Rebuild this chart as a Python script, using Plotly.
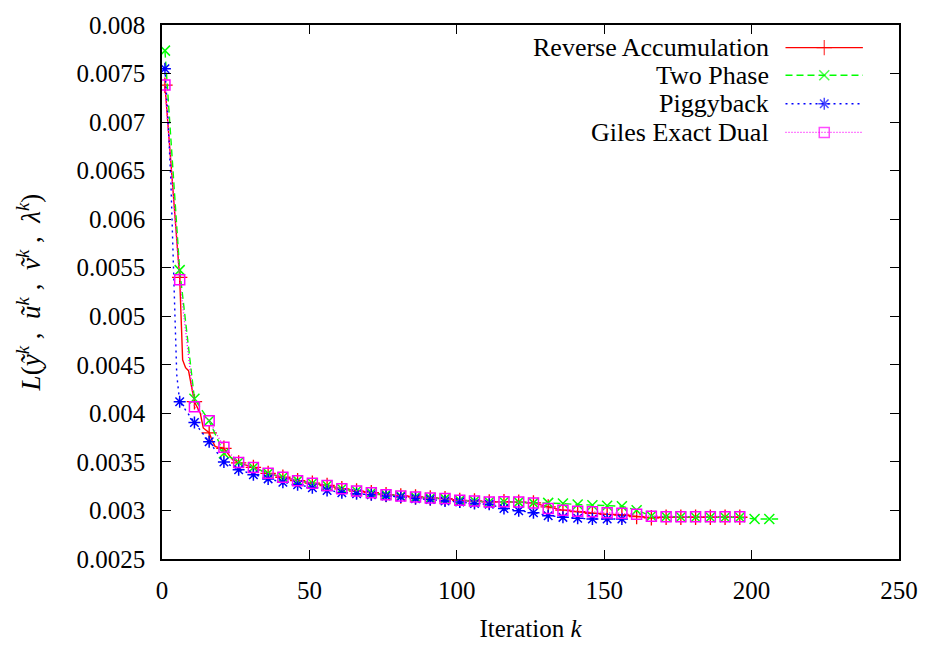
import plotly.graph_objects as go

# ---------------- data ----------------
ra_iter = [1, 2, 3, 4, 5, 6, 7, 8, 9, 10, 11, 12, 13, 14, 15, 16, 17, 18, 19, 20, 21, 22, 23, 24, 25, 26,
           31, 36, 41, 46, 51, 56, 61, 66, 71, 76, 81, 86, 91, 96, 101, 106, 111, 116, 121, 126,
           131, 136, 141, 146, 151, 156, 161, 166, 171, 176, 181, 186, 191, 196]
ra_val = [0.00738, 0.00700, 0.00660, 0.00620, 0.00580, 0.00540, 0.00455, 0.00447, 0.00444, 0.00429,
          0.00412, 0.00406, 0.00400, 0.00385, 0.00382, 0.00380, 0.00372, 0.00366, 0.00365, 0.00365,
          0.00364, 0.00360, 0.00355, 0.00352, 0.00351, 0.00349,
          0.003443, 0.003382, 0.003342, 0.003307, 0.003281, 0.003257, 0.003223, 0.003200, 0.003183,
          0.003163, 0.003149, 0.003139, 0.003129, 0.003122, 0.003104, 0.003098, 0.003088, 0.003090,
          0.003086, 0.003078,
          0.003037, 0.003003, 0.002987, 0.002970, 0.002960, 0.002953, 0.002936, 0.002925, 0.002930,
          0.002930, 0.002930, 0.002930, 0.002930, 0.002930]

tp_iter = [1, 6, 11, 16, 21, 26, 31, 36, 41, 46, 51, 56, 61, 66, 71, 76, 81, 86, 91, 96, 101, 106,
           111, 116, 121, 126, 131, 136, 141, 146, 151, 156, 161, 166, 171, 176, 181, 186, 191, 196,
           201, 206, 209]
tp_val = [0.007736, 0.005475, 0.004150, 0.003923, 0.003590, 0.003497, 0.003443, 0.003382, 0.003342,
          0.003307, 0.003281, 0.003257, 0.003223, 0.003200, 0.003183, 0.003163, 0.003149, 0.003139,
          0.003129, 0.003122, 0.003104, 0.003098, 0.003088, 0.003090, 0.003086, 0.003078, 0.003078,
          0.003071, 0.003061, 0.003054, 0.003048, 0.003044, 0.003003, 0.002942, 0.002936, 0.002932,
          0.002930, 0.002930, 0.002930, 0.002930, 0.002912, 0.002912, 0.002912]

pb_iter = [1, 2, 3, 4, 5, 6, 11, 16, 21, 26, 31, 36, 41, 46, 51, 56, 61, 66, 71, 76, 81, 86, 91, 96,
           101, 106, 111, 116, 121, 126, 131, 136, 141, 146, 151, 156]
pb_val = [0.00755, 0.00705, 0.00640, 0.00540, 0.00440, 0.004119, 0.003906, 0.003707, 0.003500,
          0.003419, 0.003368, 0.003325, 0.003291, 0.003264, 0.003233, 0.003206, 0.003183, 0.003172,
          0.003162, 0.003149, 0.003139, 0.003122, 0.003112, 0.003098, 0.003088, 0.003071, 0.003064,
          0.003020, 0.002997, 0.002977, 0.002946, 0.002929, 0.002919, 0.002912, 0.002912, 0.002912]

ge_iter = [1, 6, 11, 16, 21, 26, 31, 36, 41, 46, 51, 56, 61, 66, 71, 76, 81, 86, 91, 96, 101, 106,
           111, 116, 121, 126, 131, 136, 141, 146, 151, 156, 161, 166, 171, 176, 181, 186, 191, 196]
ge_val = [0.007381, 0.005376, 0.004068, 0.003923, 0.003652, 0.003494, 0.003443, 0.003382, 0.003342,
          0.003307, 0.003281, 0.003257, 0.003223, 0.003200, 0.003183, 0.003163, 0.003149, 0.003139,
          0.003129, 0.003122, 0.003104, 0.003098, 0.003088, 0.003090, 0.003086, 0.003078, 0.003020,
          0.003003, 0.002993, 0.002987, 0.002977, 0.002970, 0.002960, 0.002940, 0.002936, 0.002936,
          0.002936, 0.002936, 0.002936, 0.002936]

series_names = ["Reverse Accumulation", "Two Phase", "Piggyback", "Giles Exact Dual"]

x_ticks = [0, 50, 100, 150, 200, 250]
y_ticks = [0.0025, 0.003, 0.0035, 0.004, 0.0045, 0.005, 0.0055, 0.006, 0.0065, 0.007, 0.0075, 0.008]
y_tick_labels = ["0.0025", "0.003", "0.0035", "0.004", "0.0045", "0.005", "0.0055", "0.006",
                 "0.0065", "0.007", "0.0075", "0.008"]

# ---------------- styles ----------------
styles = [
    dict(color="#ff0000", dash="solid", symbol="cross-thin", msize=11, mlw=1.3),
    dict(color="#00ff00", dash="7px,4px", symbol="x-thin", msize=10, mlw=1.5),
    dict(color="#0000ff", dash="2px,4px", symbol="asterisk", msize=10, mlw=1.5),
    dict(color="#ff00ff", dash="1px,2px", symbol="square-open", msize=10, mlw=1.5),
]
data = [(ra_iter, ra_val), (tp_iter, tp_val), (pb_iter, pb_val), (ge_iter, ge_val)]

fig = go.Figure()
FONT = "Liberation Serif, Times New Roman, serif"
FS = 25

for (xs, ys), st, name in zip(data, styles, series_names):
    fig.add_trace(go.Scatter(x=xs, y=ys, mode="lines", name=name, showlegend=False,
                             line=dict(color=st["color"], width=1.4, dash=st["dash"])))
    mx = [x for x in xs if (x - 1) % 5 == 0]
    my = [y for x, y in zip(xs, ys) if (x - 1) % 5 == 0]
    fig.add_trace(go.Scatter(x=mx, y=my, mode="markers", name=name, showlegend=False,
                             marker=dict(symbol=st["symbol"], size=st["msize"], color=st["color"],
                                         line=dict(color=st["color"], width=st["mlw"]))))

# custom gnuplot-style key (text right, sample on right)
key_rows = [0.9576, 0.9059, 0.8524, 0.7989]
for row, st, name in zip(key_rows, styles, series_names):
    fig.add_trace(go.Scatter(x=[0.846, 0.8986, 0.951], y=[row] * 3, xaxis="x2", yaxis="y2",
                             mode="lines+markers", showlegend=False, hoverinfo="skip",
                             line=dict(color=st["color"], width=1.4, dash=st["dash"]),
                             marker=dict(symbol=st["symbol"], size=[0, st["msize"], 0],
                                         color=st["color"],
                                         line=dict(color=st["color"], width=st["mlw"]))))
    fig.add_annotation(x=0.826, y=row, xref="paper", yref="paper", text=name, showarrow=False,
                       xanchor="right", yanchor="middle", font=dict(family=FONT, size=FS + 1, color="black"))

axis_common = dict(showgrid=False, zeroline=False, showline=True, linecolor="black", linewidth=1.5,
                   ticks="inside", ticklen=9, tickwidth=1.3, tickcolor="black", mirror="ticks",
                   tickfont=dict(family=FONT, size=FS, color="black"))

ytitle = ("<i>L</i>(<i>ỹ</i><sup><i>k</i></sup> ,  <i>ũ</i><sup><i>k</i></sup> ,  "
          "<i>ṽ</i><sup><i>k</i></sup> ,  <i>λ</i><sup><i>k</i></sup>)")

fig.update_layout(
    width=930, height=650,
    margin=dict(l=162, r=28, t=19, b=89),
    paper_bgcolor="white", plot_bgcolor="white",
    xaxis=dict(range=[0, 250], tickvals=x_ticks, ticklabelstandoff=8,
               title=dict(text="Iteration <i>k</i>", font=dict(family=FONT, size=FS, color="black"),
                          standoff=17),
               **axis_common),
    yaxis=dict(range=[0.0025, 0.008], tickvals=y_ticks, ticktext=y_tick_labels, ticklabelstandoff=10,
               title=dict(text=ytitle, font=dict(family=FONT, size=FS + 2, color="black"), standoff=28),
               **axis_common),
    xaxis2=dict(range=[0, 1], overlaying="x", visible=False),
    yaxis2=dict(range=[0, 1], overlaying="y", visible=False),
    showlegend=False,
)

fig.write_html("out.html")
